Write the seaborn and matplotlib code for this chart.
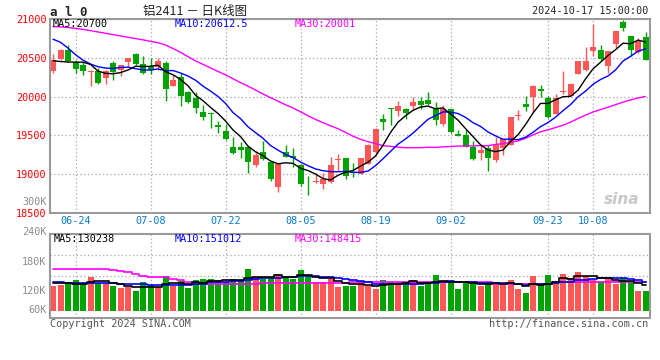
import numpy as np
import pandas as pd
import matplotlib
matplotlib.use('Agg')
import matplotlib.pyplot as plt
import matplotlib.transforms as mtransforms
from matplotlib.ticker import FixedLocator
import seaborn as sns

# ---- dữ liệu: 铝2411 日K, 06-19 .. 10-17 ----
holidays = ['2024-09-16', '2024-09-17', '2024-10-01', '2024-10-02',
            '2024-10-03', '2024-10-04', '2024-10-07']
dates = pd.bdate_range('2024-06-19', '2024-10-17', freq='C', holidays=holidays)
tick_labels = ['06-24', '07-08', '07-22', '08-05', '08-19', '09-02', '09-23', '10-08']

open_ = [20329, 20480, 20606, 20444, 20401, 20316, 20329, 20239, 20431, 20345,
         20444, 20548, 20414, 20388, 20380, 20431, 20136, 20251, 20059, 19982,
         19803, 19790, 19632, 19555, 19350, 19350, 19354, 19119, 19290, 19162,
         18841, 19281, 19239, 19119, 18800, 18901, 18875, 18896, 19180, 19213,
         19030, 19004, 19132, 19290, 19709, 19850, 19816, 19845, 19880, 19944,
         19952, 19845, 19653, 19845, 19516, 19504, 19354, 19277, 19341, 19183,
         19341, 19375, 19745, 19901, 19995, 20102, 19986, 19781, 20059, 20004,
         20294, 20346, 20594, 20602, 20388, 20679, 20957, 20786, 20572, 20764]
high = [20551, 20610, 20670, 20474, 20444, 20346, 20371, 20337, 20457, 20405,
        20503, 20563, 20529, 20499, 20495, 20457, 20273, 20303, 20072, 20059,
        19888, 19803, 19683, 19653, 19482, 19418, 19362, 19298, 19431, 19174,
        19132, 19375, 19341, 19132, 18982, 19012, 19021, 19217, 19260, 19213,
        19140, 19213, 19388, 19597, 19781, 19858, 19944, 19858, 19995, 19995,
        20059, 19931, 19888, 19845, 19568, 19568, 19431, 19388, 19375, 19482,
        19452, 19739, 19833, 20004, 20145, 20145, 20004, 20029, 20324, 20175,
        20465, 20645, 20935, 20670, 20593, 20841, 20990, 20786, 20756, 20837]
low = [20303, 20475, 20444, 20303, 20273, 20136, 20158, 20166, 20209, 20260,
       20380, 20401, 20294, 20294, 20337, 19944, 20136, 19880, 19918, 19790,
       19704, 19589, 19533, 19439, 19256, 19213, 19021, 19089, 19183, 18918,
       18777, 19217, 19098, 18854, 18726, 18884, 18811, 18884, 19046, 18935,
       18961, 19004, 19132, 19260, 19568, 19640, 19751, 19717, 19833, 19845,
       19888, 19632, 19619, 19525, 19490, 19345, 19183, 19183, 19046, 19162,
       19247, 19375, 19696, 19815, 19803, 19995, 19730, 19773, 20038, 20004,
       20294, 20329, 20529, 20465, 20303, 20628, 20841, 20529, 20559, 20478]
close = [20474, 20604, 20465, 20350, 20324, 20329, 20175, 20324, 20316, 20401,
         20499, 20414, 20303, 20337, 20465, 20093, 20209, 20004, 19931, 19854,
         19739, 19778, 19610, 19448, 19277, 19311, 19162, 19247, 19191, 18939,
         19132, 19226, 19213, 18875, 18790, 18905, 18935, 19119, 19183, 18982,
         19021, 19213, 19375, 19580, 19674, 19845, 19875, 19790, 19931, 19888,
         19901, 19704, 19845, 19546, 19491, 19354, 19191, 19311, 19213, 19388,
         19452, 19739, 19750, 19867, 20132, 20072, 19739, 19986, 20063, 20157,
         20465, 20465, 20636, 20487, 20593, 20841, 20884, 20602, 20713, 20478]

ma5 = [20462, 20452, 20446, 20444, 20444, 20415, 20329, 20300, 20294, 20309,
       20343, 20391, 20387, 20391, 20404, 20322, 20281, 20222, 20140, 20018,
       19947, 19861, 19782, 19686, 19570, 19485, 19362, 19289, 19238, 19170,
       19134, 19147, 19140, 19077, 19047, 19002, 18944, 18925, 18986, 19025,
       19048, 19104, 19155, 19234, 19373, 19537, 19670, 19753, 19823, 19866,
       19877, 19843, 19854, 19777, 19697, 19588, 19485, 19379, 19312, 19291,
       19311, 19421, 19508, 19639, 19788, 19912, 19912, 19959, 19998, 20003,
       20082, 20227, 20357, 20442, 20529, 20604, 20688, 20681, 20727, 20704]
ma10 = [20740, 20700, 20625, 20540, 20470, 20420, 20385, 20368, 20362, 20376,
        20379, 20360, 20344, 20342, 20356, 20333, 20336, 20304, 20265, 20211,
        20135, 20071, 20002, 19913, 19794, 19716, 19611, 19536, 19462, 19370,
        19310, 19254, 19215, 19157, 19109, 19068, 19045, 19033, 19032, 19036,
        19025, 19024, 19040, 19110, 19199, 19293, 19387, 19454, 19529, 19619,
        19707, 19756, 19803, 19800, 19782, 19733, 19664, 19616, 19544, 19494,
        19450, 19453, 19444, 19476, 19540, 19612, 19666, 19734, 19819, 19896,
        19997, 20070, 20158, 20220, 20266, 20343, 20458, 20519, 20584, 20616]
ma30 = [20903, 20898, 20890, 20880, 20866, 20850, 20833, 20816, 20799, 20782,
        20765, 20748, 20731, 20712, 20695, 20665, 20620, 20570, 20515, 20460,
        20415, 20370, 20325, 20280, 20230, 20180, 20135, 20085, 20035, 19986,
        19941, 19895, 19853, 19804, 19753, 19706, 19664, 19624, 19586, 19539,
        19490, 19450, 19419, 19394, 19367, 19359, 19348, 19341, 19341, 19342,
        19347, 19345, 19353, 19356, 19363, 19364, 19365, 19368, 19368, 19383,
        19394, 19411, 19429, 19462, 19507, 19546, 19572, 19601, 19631, 19670,
        19718, 19760, 19802, 19832, 19863, 19896, 19929, 19956, 19983, 20002]

volume = [128400, 130400, 133900, 140700, 133900, 146800, 133900, 133900, 128400, 124300,
          125700, 118100, 136600, 130400, 125700, 148900, 128400, 137900, 124300, 140700,
          142700, 142700, 140700, 137300, 142000, 140700, 163200, 146100, 143400, 144800,
          153000, 148900, 143400, 161200, 148900, 136600, 136600, 142000, 126300, 128400,
          128400, 137300, 128400, 122200, 140700, 137300, 137300, 133900, 140700, 128400,
          133900, 150900, 137300, 137300, 122200, 138600, 135200, 128400, 133900, 133900,
          131800, 140700, 122200, 114000, 148900, 130400, 150900, 138600, 153000, 144100,
          157100, 148900, 140700, 136600, 142000, 132500, 144800, 137300, 118100, 118100]
vol_ma5 = [135200, 135200, 134500, 132500, 133400, 137100, 137800, 137800, 135400, 133400,
           129200, 126100, 126600, 127000, 127300, 131900, 134000, 134300, 133000, 136000,
           134800, 137700, 138200, 140800, 141100, 140700, 144800, 145900, 147100, 147700,
           150100, 147200, 146700, 150200, 151100, 147800, 145300, 145000, 138100, 134000,
           132400, 132500, 129800, 128900, 131400, 133200, 133200, 134300, 137950, 135500,
           134800, 137500, 138200, 137500, 136300, 137300, 134100, 132400, 131700, 134000,
           132600, 133700, 132500, 128500, 131500, 131300, 133300, 136600, 144400, 143400,
           148700, 148300, 148700, 145500, 145050, 140100, 139300, 138600, 134900, 130200]
vol_ma10 = [136600, 135900, 135200, 134500, 133900, 133900, 133900, 134500, 133900, 133400,
            133200, 131900, 132200, 131200, 130400, 130600, 130000, 130400, 130000, 131700,
            133400, 135800, 136200, 136900, 138600, 137700, 141200, 142000, 143960, 144400,
            145400, 146000, 146300, 148700, 149350, 148900, 146300, 145900, 144200, 142500,
            140060, 138900, 137400, 133500, 132700, 132800, 132800, 132000, 133400, 133400,
            134000, 135350, 136200, 137700, 135900, 136000, 135800, 135300, 134600, 135150,
            134950, 133900, 132400, 130100, 132800, 131900, 133500, 134500, 136450, 137470,
            140000, 140820, 142660, 144900, 144230, 144430, 143820, 143680, 140200, 137600]
vol_ma30 = [162500, 162500, 162500, 162500, 162500, 162500, 162500, 162500, 160500, 158400,
            156400, 152300, 149600, 146800, 146100, 146100, 143400, 140000, 137300, 135200,
            132500, 132500, 132500, 132500, 132500, 132500, 132500, 132500, 133900, 133900,
            133900, 133900, 133900, 133900, 135200, 135200, 135200, 135200, 135200, 135200,
            137300, 137300, 137300, 137300, 137300, 137300, 137300, 137300, 137300, 137300,
            137300, 137300, 137300, 137300, 137300, 137300, 137300, 137300, 137300, 133200,
            133200, 133200, 133200, 133200, 133200, 133200, 133200, 135900, 135900, 135900,
            135900, 135900, 135900, 135900, 135900, 135900, 135900, 135900, 135900, 135900]

# ---- style ----
RED = '#ff5656'
GREEN = '#00a300'
GRID = '#a8a8a8'
FRAME = '#9a9a9a'
MONO = ['DejaVu Sans Mono', 'Noto Sans CJK SC']
CJK = ['Noto Sans CJK SC', 'DejaVu Sans']
FS = 7.3

sns.set_theme(style='white')
plt.rcParams['font.family'] = MONO

W, H = 660, 360


def px(x, y):
    return x / W, 1 - y / H


fig = plt.figure(figsize=(6.6, 3.6), dpi=100)
ax = fig.add_axes([50 / W, 1 - 213 / H, 600 / W, 194 / H])
axv = fig.add_axes([50 / W, 1 - 318 / H, 600 / W, 84 / H])

x = np.arange(len(dates))
o, h, l, c = map(np.array, (open_, high, low, close))
colors = np.where(c >= o, RED, GREEN)
tick_idx = [dates.strftime('%m-%d').get_loc(t) for t in tick_labels]

# nến
ax.vlines(x, l, h, colors=colors, lw=1)
ax.bar(x, np.maximum(np.abs(c - o), 12), bottom=np.minimum(o, c),
       width=0.8, color=colors, lw=0)
sns.lineplot(x=x, y=ma30, ax=ax, color='#ff00ff', lw=1)
sns.lineplot(x=x, y=ma10, ax=ax, color='#0000ff', lw=1)
sns.lineplot(x=x, y=ma5, ax=ax, color='black', lw=1)

ax.set_xlim(-0.4, 79.6)
ax.set_ylim(18500, 21000)
ax.set_yticks(range(18500, 21001, 500))
ax.set_yticklabels([str(v) for v in range(18500, 21001, 500)], color='#ff0000', fontsize=FS)
ax.set_xticks(tick_idx)
ax.set_xticklabels(tick_labels, color='#0a78c8', fontsize=FS)
ax.tick_params(length=0, pad=2.5)

# khối lượng
vol_lo, vol_hi, vol_floor = 62860, 234890, 77200
v = np.array(volume)
axv.bar(x, v - vol_floor, bottom=vol_floor, width=0.8, color=colors, lw=0)
sns.lineplot(x=x, y=vol_ma30, ax=axv, color='#ff00ff', lw=1.2, drawstyle='steps-mid')
sns.lineplot(x=x, y=vol_ma10, ax=axv, color='#0000ff', lw=1.2, drawstyle='steps-mid')
sns.lineplot(x=x, y=vol_ma5, ax=axv, color='black', lw=1.2, drawstyle='steps-mid')

axv.set_xlim(-0.4, 79.6)
axv.set_ylim(vol_lo, vol_hi)
axv.set_xticks(tick_idx)
axv.set_xticklabels([])
axv.set_yticks([120000, 180000])
axv.set_yticklabels(['120K', '180K'], color='#8c8c8c', fontsize=FS)
axv.yaxis.set_minor_locator(FixedLocator(
    [vol_lo + f * (vol_hi - vol_lo) for f in (0.25, 0.5, 0.75)]))
axv.tick_params(length=0, pad=2.5, which='both')
trans = mtransforms.blended_transform_factory(axv.transAxes, axv.transData)
for val, lab in [(240000, '240K'), (300000, '300K')]:
    axv.text(-0.005, val, lab, transform=trans, ha='right', va='center',
             color='#8c8c8c', fontsize=FS, clip_on=False)
axv.text(-0.005, 0.095, '60K', transform=axv.transAxes, ha='right', va='center',
         color='#8c8c8c', fontsize=FS)

for a in (ax, axv):
    a.set_xlabel('')
    a.set_ylabel('')
    a.grid(axis='x', color=GRID, ls=(0, (1, 2)), lw=0.9)
    for s in a.spines.values():
        s.set_visible(True)
        s.set_color(FRAME)
        s.set_linewidth(1.5)
    a.set_axisbelow(True)
ax.grid(axis='y', color=GRID, ls=(0, (1, 2)), lw=0.9)
axv.grid(axis='y', which='minor', color=GRID, ls=(0, (1, 2)), lw=0.9)

# chữ
fig.text(*px(50, 12), 'a l 0', ha='left', va='center', fontsize=9, fontweight='bold')
fig.text(*px(195, 11), '铝2411 － 日K线图', ha='center', va='center',
         fontsize=9, family=CJK, color='#222222')
fig.text(*px(648, 11), '2024-10-17 15:00:00', ha='right', va='center', fontsize=FS)

for (xx, yy), txt, col in [((53, 24), 'MA5:20700', 'black'),
                           ((175, 24), 'MA10:20612.5', '#0000ff'),
                           ((295, 24), 'MA30:20001', '#ff00ff'),
                           ((54, 238.5), 'MA5:130238', 'black'),
                           ((175, 238.5), 'MA10:151012', '#0000ff'),
                           ((295, 238.5), 'MA30:148415', '#ff00ff')]:
    fig.text(*px(xx, yy), txt, ha='left', va='center', fontsize=FS, color=col)

fig.text(*px(50, 324), 'Copyright 2024 SINA.COM', ha='left', va='center',
         fontsize=FS, color='#555555')
fig.text(*px(648, 324), 'http://finance.sina.com.cn', ha='right', va='center',
         fontsize=FS, color='#555555')
fig.text(*px(622, 200), 'sina', ha='center', va='center', fontsize=11,
         style='italic', fontweight='bold', color='#c8c8c8', family='DejaVu Sans')

fig.savefig('out.png', dpi=100, facecolor='white')
